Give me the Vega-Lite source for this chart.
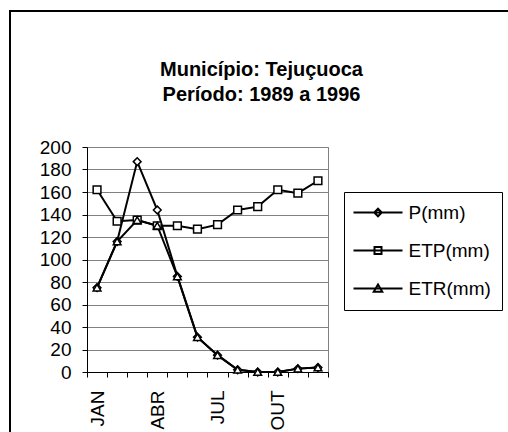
{
  "$schema": "https://vega.github.io/schema/vega-lite/v6.json",
  "width": 241,
  "height": 225,
  "autosize": {"type": "none"},
  "padding": {"left": 87, "top": 147, "right": 180, "bottom": 60},
  "background": "white",
  "title": {
    "text": ["Município: Tejuçuoca", "Período: 1989 a 1996"],
    "font": "Liberation Sans",
    "fontSize": 20,
    "fontWeight": "bold",
    "color": "black",
    "lineHeight": 25,
    "anchor": "middle",
    "frame": "group",
    "dx": 54,
    "offset": -95
  },
  "data": {
    "values": [
      {"mes": "JAN", "serie": "P(mm)", "valor": 75},
      {"mes": "FEV", "serie": "P(mm)", "valor": 116},
      {"mes": "MAR", "serie": "P(mm)", "valor": 187},
      {"mes": "ABR", "serie": "P(mm)", "valor": 144},
      {"mes": "MAI", "serie": "P(mm)", "valor": 85},
      {"mes": "JUN", "serie": "P(mm)", "valor": 31},
      {"mes": "JUL", "serie": "P(mm)", "valor": 15},
      {"mes": "AGO", "serie": "P(mm)", "valor": 2},
      {"mes": "SET", "serie": "P(mm)", "valor": 0},
      {"mes": "OUT", "serie": "P(mm)", "valor": 0},
      {"mes": "NOV", "serie": "P(mm)", "valor": 3},
      {"mes": "DEZ", "serie": "P(mm)", "valor": 4},
      {"mes": "JAN", "serie": "ETP(mm)", "valor": 162},
      {"mes": "FEV", "serie": "ETP(mm)", "valor": 134},
      {"mes": "MAR", "serie": "ETP(mm)", "valor": 135},
      {"mes": "ABR", "serie": "ETP(mm)", "valor": 130},
      {"mes": "MAI", "serie": "ETP(mm)", "valor": 130},
      {"mes": "JUN", "serie": "ETP(mm)", "valor": 127},
      {"mes": "JUL", "serie": "ETP(mm)", "valor": 131},
      {"mes": "AGO", "serie": "ETP(mm)", "valor": 144},
      {"mes": "SET", "serie": "ETP(mm)", "valor": 147},
      {"mes": "OUT", "serie": "ETP(mm)", "valor": 162},
      {"mes": "NOV", "serie": "ETP(mm)", "valor": 159},
      {"mes": "DEZ", "serie": "ETP(mm)", "valor": 170},
      {"mes": "JAN", "serie": "ETR(mm)", "valor": 75},
      {"mes": "FEV", "serie": "ETR(mm)", "valor": 116},
      {"mes": "MAR", "serie": "ETR(mm)", "valor": 135},
      {"mes": "ABR", "serie": "ETR(mm)", "valor": 130},
      {"mes": "MAI", "serie": "ETR(mm)", "valor": 85},
      {"mes": "JUN", "serie": "ETR(mm)", "valor": 31},
      {"mes": "JUL", "serie": "ETR(mm)", "valor": 15},
      {"mes": "AGO", "serie": "ETR(mm)", "valor": 2},
      {"mes": "SET", "serie": "ETR(mm)", "valor": 0},
      {"mes": "OUT", "serie": "ETR(mm)", "valor": 0},
      {"mes": "NOV", "serie": "ETR(mm)", "valor": 3},
      {"mes": "DEZ", "serie": "ETR(mm)", "valor": 4}
    ]
  },
  "encoding": {
    "x": {
      "field": "mes",
      "type": "ordinal",
      "sort": ["JAN", "FEV", "MAR", "ABR", "MAI", "JUN", "JUL", "AGO", "SET", "OUT", "NOV", "DEZ"],
      "scale": {"paddingInner": 0, "paddingOuter": 0},
      "axis": {
        "title": null,
        "labelAngle": 270,
        "labelAlign": "right",
        "labelBaseline": "middle",
        "labelFont": "Liberation Sans",
        "labelFontSize": 19,
        "labelColor": "black",
        "labelPadding": 13,
        "labelOverlap": false,
        "labelExpr": "indexof(['JAN', 'ABR', 'JUL', 'OUT'], datum.value) >= 0 ? datum.value : ''",
        "tickBand": "extent",
        "tickSize": 5,
        "tickColor": "black",
        "domainColor": "black",
        "grid": false
      }
    },
    "y": {
      "field": "valor",
      "type": "quantitative",
      "scale": {"domain": [0, 200], "nice": false},
      "axis": {
        "title": null,
        "values": [0, 20, 40, 60, 80, 100, 120, 140, 160, 180, 200],
        "grid": true,
        "gridColor": "#808080",
        "gridOpacity": 1,
        "gridWidth": 1,
        "tickSize": 5,
        "tickColor": "black",
        "domainColor": "black",
        "labelFont": "Liberation Sans",
        "labelFontSize": 19,
        "labelColor": "black",
        "labelPadding": 11
      }
    }
  },
  "layer": [
    {
      "mark": {"type": "line", "color": "black", "strokeWidth": 2},
      "encoding": {"detail": {"field": "serie"}}
    },
    {
      "mark": {"type": "point", "filled": true, "fill": "white", "stroke": "black", "strokeWidth": 1.5, "opacity": 1, "size": 60},
      "encoding": {
        "shape": {
          "field": "serie",
          "type": "nominal",
          "scale": {"domain": ["P(mm)", "ETP(mm)", "ETR(mm)"], "range": ["diamond", "square", "triangle-up"]},
          "legend": null
        }
      }
    },
    {
      "transform": [{"filter": "datum.valor < 0"}],
      "mark": {"type": "point", "filled": false, "color": "black", "stroke": "black", "strokeWidth": 2, "opacity": 1},
      "encoding": {
        "shape": {
          "field": "serie",
          "type": "nominal",
          "scale": {
            "domain": ["P(mm)", "ETP(mm)", "ETR(mm)"],
            "range": [
              "M-4.9,0H4.9M0,-0.75L0.75,0L0,0.75L-0.75,0Z",
              "M-4.9,0H4.9M-0.7,-0.7H0.7V0.7H-0.7Z",
              "M-4.9,0H4.9M0,-0.8L0.85,0.65H-0.85Z"
            ]
          },
          "legend": {
            "title": null,
            "orient": "none",
            "legendX": 257,
            "legendY": 45,
            "strokeColor": "black",
            "padding": 11,
            "labelFont": "Liberation Sans",
            "labelFontSize": 19,
            "labelColor": "black",
            "labelOffset": 21,
            "symbolOffset": 13.5,
            "symbolSize": 100,
            "symbolStrokeWidth": 2,
            "rowPadding": 18
          }
        },
        "fill": {
          "datum": "moldura",
          "scale": {"range": ["white"]},
          "legend": {
            "title": null,
            "orient": "none",
            "legendX": -77,
            "legendY": -136,
            "strokeColor": "black",
            "padding": 300,
            "symbolOpacity": 0,
            "labelOpacity": 0,
            "encoding": {"legend": {"strokeWidth": {"value": 2}}}
          }
        }
      }
    }
  ],
  "resolve": {"scale": {"shape": "independent"}},
  "config": {
    "view": {"stroke": "#808080", "strokeWidth": 1}
  }
}
